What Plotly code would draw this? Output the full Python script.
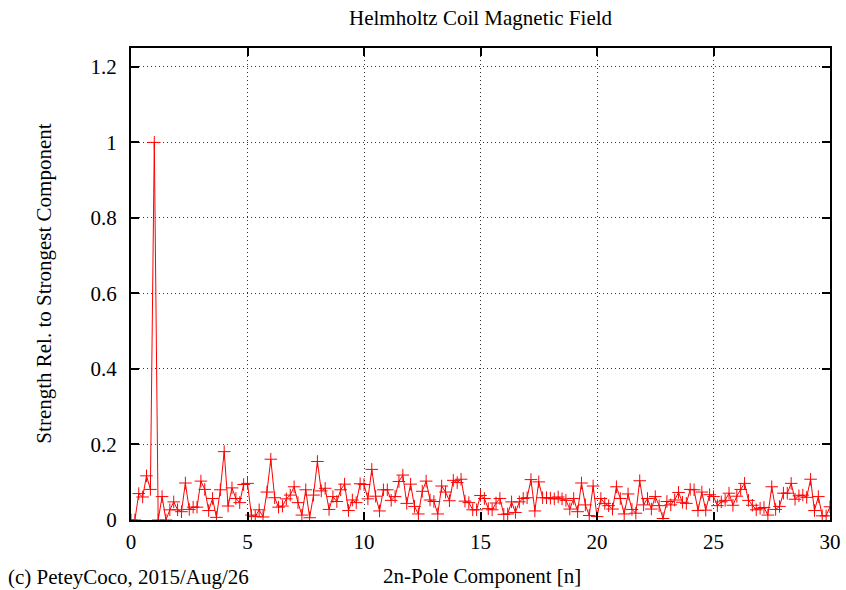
import plotly.graph_objects as go

# Harmonic index grid (step 1/6 of n), 0..30
n_points = 181
pole_n = [k / 6 for k in range(n_points)]

strength = [
    0.000, 0.000, 0.070, 0.061, 0.117, 0.081, 1.000, 0.000, 0.062, 0.000,
    0.027, 0.048, 0.027, 0.022, 0.098, 0.028, 0.034, 0.034, 0.103, 0.081,
    0.025, 0.057, 0.007, 0.080, 0.181, 0.037, 0.085, 0.057, 0.046, 0.094,
    0.097, 0.013, 0.009, 0.027, 0.008, 0.074, 0.161, 0.059, 0.034, 0.037,
    0.056, 0.066, 0.088, 0.046, 0.013, 0.080, 0.006, 0.066, 0.155, 0.077,
    0.084, 0.028, 0.062, 0.049, 0.080, 0.095, 0.025, 0.053, 0.046, 0.096,
    0.094, 0.056, 0.134, 0.063, 0.024, 0.080, 0.080, 0.052, 0.062, 0.102,
    0.119, 0.044, 0.095, 0.036, 0.016, 0.076, 0.103, 0.053, 0.049, 0.016,
    0.090, 0.074, 0.051, 0.105, 0.099, 0.108, 0.050, 0.046, 0.027, 0.027,
    0.065, 0.057, 0.030, 0.027, 0.045, 0.057, 0.015, 0.016, 0.048, 0.020,
    0.048, 0.057, 0.059, 0.107, 0.024, 0.101, 0.059, 0.059, 0.058, 0.056,
    0.061, 0.056, 0.052, 0.029, 0.057, 0.022, 0.098, 0.040, 0.012, 0.090,
    0.009, 0.057, 0.044, 0.038, 0.029, 0.088, 0.057, 0.016, 0.069, 0.028,
    0.018, 0.104, 0.040, 0.057, 0.029, 0.062, 0.038, 0.004, 0.049, 0.040,
    0.053, 0.073, 0.047, 0.044, 0.081, 0.080, 0.025, 0.074, 0.026, 0.067,
    0.062, 0.038, 0.048, 0.052, 0.071, 0.039, 0.063, 0.081, 0.097, 0.052,
    0.039, 0.027, 0.031, 0.033, 0.013, 0.088, 0.028, 0.036, 0.071, 0.071,
    0.097, 0.055, 0.064, 0.066, 0.060, 0.108, 0.025, 0.062, 0.011, 0.011,
    0.035,
]

x_ticks = [0, 5, 10, 15, 20, 25, 30]
y_ticks = [0, 0.2, 0.4, 0.6, 0.8, 1.0, 1.2]

title_text = "Helmholtz Coil Magnetic Field"
x_title = "2n-Pole Component [n]"
y_title = "Strength Rel. to Strongest Component"
credit = "(c) PeteyCoco, 2015/Aug/26"

FONT = "Liberation Serif, Times New Roman, serif"
FS = 21

fig = go.Figure()
fig.add_trace(go.Scatter(
    x=pole_n, y=strength, mode="lines+markers",
    line=dict(color="#ff0000", width=1),
    marker=dict(symbol="cross-thin", size=9, line=dict(color="#ff0000", width=1)),
    showlegend=False,
))

axis_common = dict(
    showline=True, linecolor="black", linewidth=2, mirror="ticks",
    ticks="inside", ticklen=8, tickwidth=2, tickcolor="black",
    showgrid=True, gridcolor="#333333", griddash="1px,3px", gridwidth=1,
    zeroline=False, automargin=False,
    tickfont=dict(family=FONT, size=FS, color="black"),
)

fig.update_xaxes(range=[0, 30], tickvals=x_ticks, ticklabelstandoff=2, **axis_common)
fig.update_yaxes(range=[0, 1.25], tickvals=y_ticks, ticklabelstandoff=8, **axis_common)

fig.update_layout(
    width=846, height=590,
    margin=dict(l=131, r=16, t=48, b=70),
    plot_bgcolor="white", paper_bgcolor="white",
    font=dict(family=FONT, size=FS, color="black"),
    annotations=[
        dict(text=title_text, xref="paper", yref="paper", x=0.5, y=1.0636,
             xanchor="center", yanchor="middle", showarrow=False,
             font=dict(family=FONT, size=FS, color="black")),
        dict(text=x_title, xref="paper", yref="paper", x=0.502, y=-0.119,
             xanchor="center", yanchor="middle", showarrow=False,
             font=dict(family=FONT, size=FS, color="black")),
        dict(text=y_title, xref="paper", yref="paper", x=-0.125, y=0.5,
             xanchor="center", yanchor="middle", showarrow=False, textangle=-90,
             font=dict(family=FONT, size=FS, color="black")),
        dict(text=credit, xref="paper", yref="paper", x=-0.179, y=-0.121,
             xanchor="left", yanchor="middle", showarrow=False,
             font=dict(family=FONT, size=FS, color="black")),
    ],
)

fig.write_html("out.html")
